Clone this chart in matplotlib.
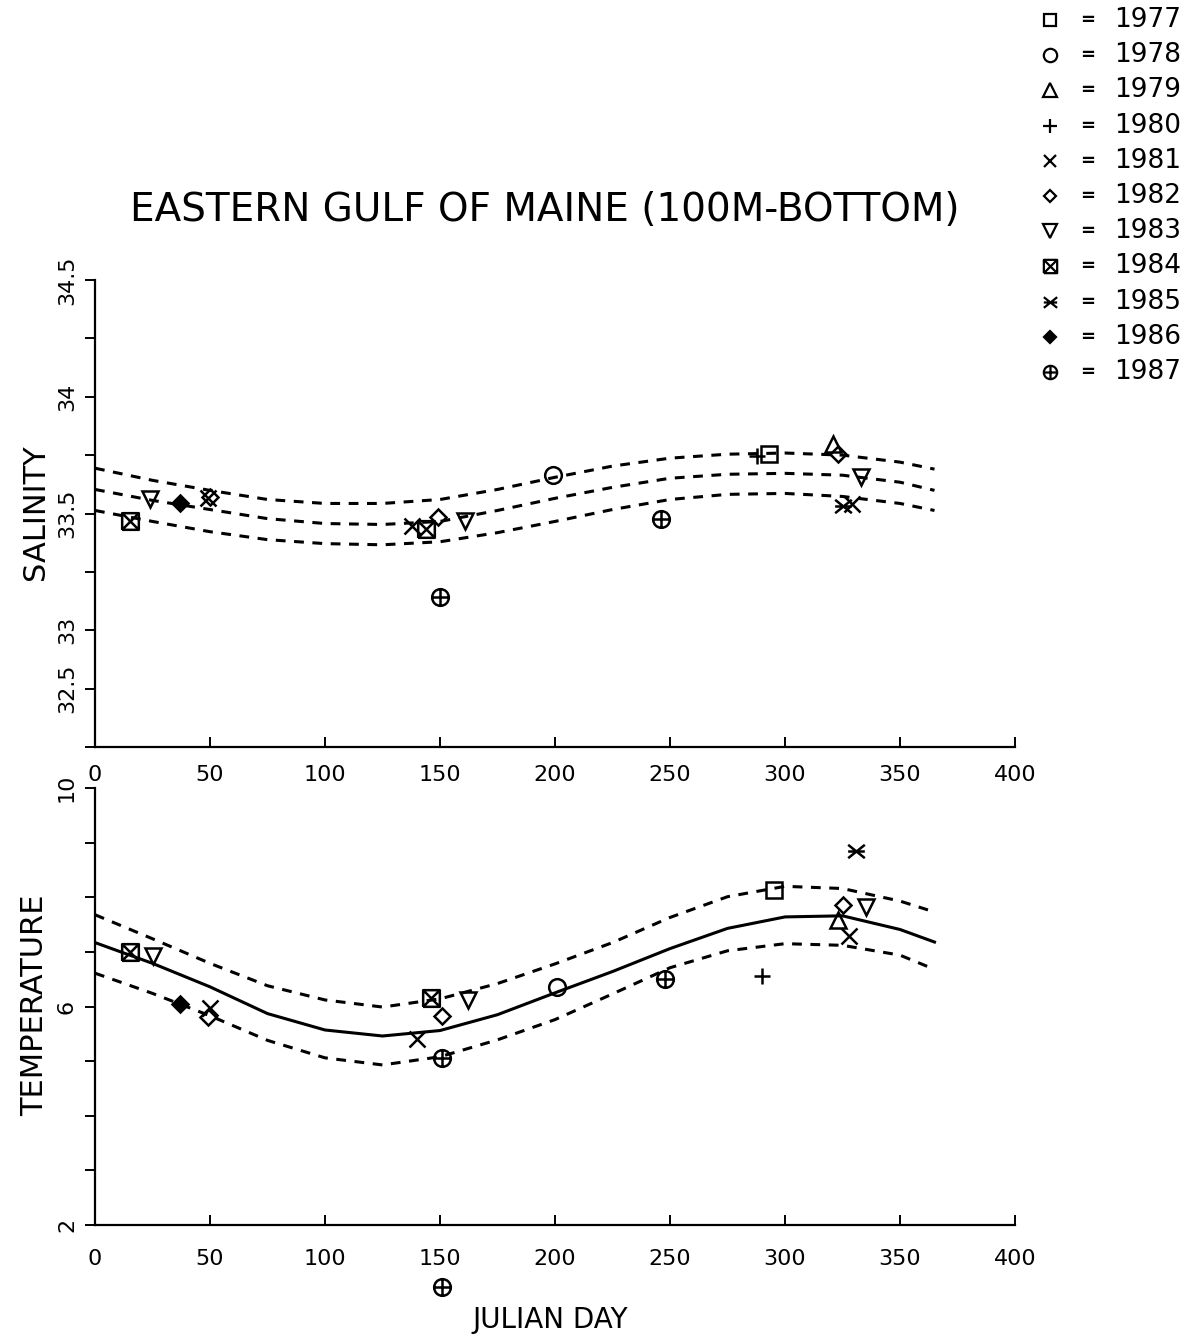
import numpy as np
import matplotlib
matplotlib.use("Agg")
import matplotlib.pyplot as plt
from matplotlib.path import Path

# ---- data ----
years = [1977, 1978, 1979, 1980, 1981, 1982, 1983, 1984, 1985, 1986, 1987]

# fitted curves, sampled along the julian day axis
curve_days = [0, 25, 50, 75, 100, 125, 150, 175, 200, 225, 250, 275, 300, 325, 350, 365]
sal_upper = [33.694, 33.642, 33.599, 33.560, 33.543, 33.543, 33.560, 33.603,
             33.655, 33.703, 33.737, 33.754, 33.759, 33.750, 33.720, 33.690]
sal_mid = [33.603, 33.556, 33.517, 33.478, 33.457, 33.453, 33.466, 33.513,
           33.565, 33.612, 33.651, 33.668, 33.672, 33.664, 33.634, 33.599]
sal_lower = [33.513, 33.466, 33.422, 33.388, 33.371, 33.366, 33.379, 33.418,
             33.466, 33.517, 33.560, 33.582, 33.586, 33.573, 33.543, 33.513]

temp_upper = [7.68, 7.24, 6.79, 6.38, 6.12, 5.99, 6.14, 6.42,
              6.78, 7.17, 7.63, 8.01, 8.20, 8.16, 7.93, 7.73]
temp_mid = [7.17, 6.79, 6.36, 5.87, 5.57, 5.46, 5.56, 5.85,
            6.25, 6.64, 7.06, 7.43, 7.64, 7.66, 7.41, 7.18]
temp_lower = [6.61, 6.24, 5.83, 5.38, 5.06, 4.93, 5.08, 5.39,
              5.76, 6.23, 6.71, 7.02, 7.15, 7.12, 6.94, 6.68]

# observations
sal_day = [15, 24, 37, 49, 50, 138, 144, 149, 150, 161, 199, 246, 288, 293, 321, 323, 325, 329, 333]
sal_val = [33.466, 33.560, 33.543, 33.565, 33.569, 33.448, 33.435, 33.483, 33.142, 33.466,
           33.664, 33.478, 33.746, 33.754, 33.797, 33.754, 33.530, 33.539, 33.655]
sal_year = [1984, 1983, 1986, 1981, 1982, 1981, 1984, 1982, 1987, 1983,
            1978, 1987, 1980, 1977, 1979, 1982, 1985, 1981, 1983]

temp_day = [15, 25, 37, 50, 49, 140, 146, 151, 151, 162, 201, 248, 290, 295, 323, 325, 328, 331, 335, 151]
temp_val = [7.00, 6.92, 6.05, 5.97, 5.81, 5.40, 6.15, 5.82, 5.05, 6.12,
            6.36, 6.50, 6.56, 8.13, 7.58, 7.86, 7.29, 8.85, 7.82, 0.86]
temp_year = [1984, 1983, 1986, 1981, 1982, 1981, 1984, 1982, 1987, 1983,
             1978, 1987, 1980, 1977, 1979, 1982, 1981, 1985, 1983, 1987]

xticks = [0, 50, 100, 150, 200, 250, 300, 350, 400]
sal_ticks = [32.5, 32.75, 33.0, 33.25, 33.5, 33.75, 34.0, 34.25, 34.5]
sal_ticklabels = ['', '32.5', '33', '', '33.5', '', '34', '', '34.5']
temp_ticks = [2, 3, 4, 5, 6, 7, 8, 9, 10]
temp_ticklabels = ['2', '', '', '', '6', '', '', '', '10']

# ---- marker shapes ----
M, L = Path.MOVETO, Path.LINETO
boxx = Path([(-1, -1), (1, -1), (1, 1), (-1, 1), (-1, -1), (-1, -1), (1, 1), (-1, 1), (1, -1)],
            [M, L, L, L, L, M, L, M, L])
star6 = Path([(-1, -0.8), (1, 0.8), (-1, 0.8), (1, -0.8), (-1, 0), (1, 0)],
             [M, L, M, L, M, L])
circplus = Path.make_compound_path(
    Path.unit_circle(),
    Path([(-1, 0), (1, 0)], [M, L]),
    Path([(0, -1), (0, 1)], [M, L]))

# year -> (marker, size, filled)
style = {
    1977: ('s', 11, False),
    1978: ('o', 12, False),
    1979: ('^', 12, False),
    1980: ('+', 12, False),
    1981: ('x', 11, False),
    1982: ('D', 8, False),
    1983: ('v', 12, False),
    1984: (boxx, 12, False),
    1985: (star6, 12, False),
    1986: ('D', 8, True),
    1987: (circplus, 12, False),
}


def draw_marks(ax, days, vals, yrs, scale=1.0, clip=True):
    for d, v, y in zip(days, vals, yrs):
        mk, ms, filled = style[y]
        ax.plot([d], [v], linestyle='none', marker=mk, ms=ms * scale,
                mfc='k' if filled else 'none', mec='k', mew=1.8,
                clip_on=clip, zorder=3)


W, H = 1190, 1344
fig = plt.figure(figsize=(W / 100, H / 100), dpi=100)
plt.rcParams['font.family'] = ['DejaVu Sans']

ax1 = fig.add_axes([95 / W, 1 - 747 / H, 920 / W, 467 / H])
ax2 = fig.add_axes([95 / W, 1 - 1225 / H, 920 / W, 437 / H])

for ax in (ax1, ax2):
    ax.set_xlim(0, 400)
    ax.spines['top'].set_visible(False)
    ax.spines['right'].set_visible(False)
    ax.spines['left'].set_linewidth(1.6)
    ax.spines['bottom'].set_linewidth(1.6)
    ax.set_xticks(xticks)
    ax.set_xticklabels([str(t) for t in xticks], fontsize=16)
    ax.tick_params(axis='x', direction='in', length=7, width=1.4)
    ax.tick_params(axis='y', direction='out', length=7, width=1.4, pad=6)

ax1.tick_params(axis='x', pad=13)
ax2.tick_params(axis='x', pad=17)

# salinity panel
ax1.set_ylim(32.5, 34.5)
ax1.set_yticks(sal_ticks)
ax1.set_yticklabels(sal_ticklabels, rotation=90, va='center', fontsize=16)
for c in (sal_upper, sal_mid, sal_lower):
    ax1.plot(curve_days, c, color='k', lw=2.2, dashes=(3.2, 2.8))
draw_marks(ax1, sal_day, sal_val, sal_year)

# temperature panel
ax2.set_ylim(2, 10)
ax2.set_yticks(temp_ticks)
ax2.set_yticklabels(temp_ticklabels, rotation=90, va='center', fontsize=16)
ax2.plot(curve_days, temp_mid, color='k', lw=2.2)
for c in (temp_upper, temp_lower):
    ax2.plot(curve_days, c, color='k', lw=2.2, dashes=(3.2, 2.8))
draw_marks(ax2, temp_day, temp_val, temp_year, clip=False)

# labels
fig.text(545 / W, 1 - 210 / H, 'EASTERN GULF OF MAINE (100M-BOTTOM)',
         ha='center', va='center', fontsize=28)
fig.text(35 / W, 1 - 512 / H, 'SALINITY', rotation=90, ha='center', va='center', fontsize=22)
fig.text(35 / W, 1 - 1005 / H, 'TEMPERATURE', rotation=90, ha='center', va='center', fontsize=22)
fig.text(550 / W, 1 - 1320 / H, 'JULIAN DAY', ha='center', va='center', fontsize=20)

# legend, drawn by hand like the plotter output
lax = fig.add_axes([1025 / W, 1 - 392 / H, 165 / W, 392 / H])
lax.set_xlim(1025, 1190)
lax.set_ylim(392, 0)
lax.axis('off')
for i, y in enumerate(years):
    row = 20 + 35.2 * i
    mk, ms, filled = style[y]
    lax.plot([1050], [row], linestyle='none', marker=mk, ms=ms * 0.8,
             mfc='k' if filled else 'none', mec='k', mew=1.6, clip_on=False)
    lax.text(1088, row, '=', ha='center', va='center', fontsize=13, fontweight='bold')
    lax.text(1114, row, str(y), ha='left', va='center', fontsize=19)

fig.savefig('out.png', dpi=100)
